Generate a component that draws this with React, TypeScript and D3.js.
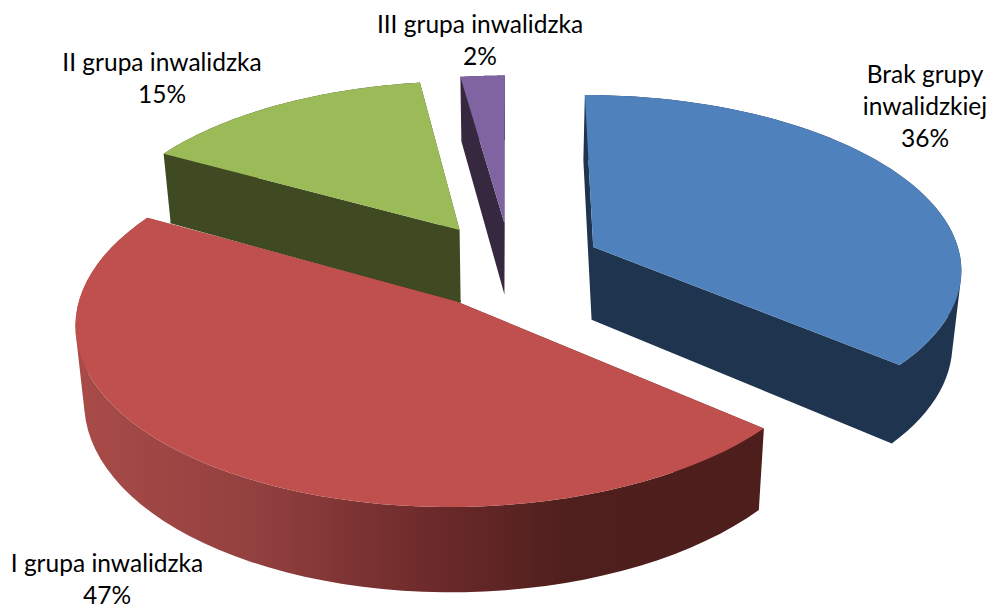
import React from "react";
import * as d3 from "d3";

const categories = ["Brak grupy inwalidzkiej", "I grupa inwalidzka", "II grupa inwalidzka", "III grupa inwalidzka"];
const values = [36.2, 46.9, 14.7, 2.2];
const topColors = ["#4F81BD", "#C0504D", "#9BBB59", "#8064A2"];
const wallColors = ["#1F344E", "url(#redWall)", "#3F4A22", "#35283F"];
const labelLines = [
  ["Brak grupy", "inwalidzkiej", "36%"],
  ["I grupa inwalidzka", "47%"],
  ["II grupa inwalidzka", "15%"],
  ["III grupa inwalidzka", "2%"],
];
const labelAnchors = [
  { x: 925, y: 83 },
  { x: 107, y: 572 },
  { x: 162, y: 71 },
  { x: 480, y: 33 },
];
const drawOrder = [0, 3, 2, 1];
const redStops = [
  { o: 0, c: "#A84B48" },
  { o: 0.25, c: "#934140" },
  { o: 0.5, c: "#6F2B2B" },
  { o: 0.72, c: "#4E1F1D" },
  { o: 1, c: "#4D1E1C" },
];

const CX = 510.5, CY = 265, RX = 369, RY = 173.2, P = 0.114, DEPTH = 73.5, EXPLODE = 0.25;
const BOTTOM_SHRINK = 0.98;

const scaleX = d3.scaleLinear().domain([-1, 1]).range([CX - RX, CX + RX]);
const scaleY = d3.scaleLinear().domain([-1, 1]).range([CY - RY, CY + RY]);

type Pt = [number, number];
function project(u: number, v: number, lower: boolean): Pt {
  const w = 1 / (1 - P * v);
  const x = scaleX(u * w);
  const y = scaleY(v * w);
  if (!lower) return [x, y];
  return [CX + (x - CX) * BOTTOM_SHRINK, y + DEPTH * w];
}

const pieGen = d3.pie<number>().sort(null).value((d) => d);
const arcs = pieGen(values);
const line = d3.line<Pt>();

function geom(a0: number, a1: number) {
  const m = (a0 + a1) / 2;
  const ou = EXPLODE * Math.sin(m), ov = -EXPLODE * Math.cos(m);
  const angles = d3.range(0, 61).map((i) => a0 + ((a1 - a0) * i) / 60);
  const rim = (lower: boolean) =>
    angles.map((t) => project(ou + Math.sin(t), ov - Math.cos(t), lower));
  const apex = (lower: boolean) => project(ou, ov, lower);
  return { rim, apex };
}

function quadPath(quad: Pt[]) {
  const ordered = d3.polygonArea(quad) < 0 ? quad.slice().reverse() : quad;
  return line(ordered)! + "Z";
}

// Cut faces and rim as quads wound the same way, joined into one path so no seams show.
function wallPath(a: Pt, b: Pt, top: Pt[], bot: Pt[]) {
  const last = top.length - 1;
  const rim = top.slice(1).map((p, k) => quadPath([top[k], p, bot[k + 1], bot[k]]));
  return [quadPath([a, top[0], bot[0], b]), quadPath([a, top[last], bot[last], b]), ...rim].join("");
}

export default function App() {
  return (
    <svg width={989} height={604} style={{ position: "absolute", left: 0, top: 0, background: "#fff" }}>
      <defs>
        <linearGradient id="redWall" gradientUnits="userSpaceOnUse" x1={80} x2={763} y1={0} y2={0}>
          {redStops.map((s) => (
            <stop key={s.o} offset={s.o} stopColor={s.c} />
          ))}
        </linearGradient>
      </defs>
      {drawOrder.map((i) => {
        const g = geom(arcs[i].startAngle, arcs[i].endAngle);
        const top = g.rim(false), bot = g.rim(true);
        const a = g.apex(false), b = g.apex(true);
        const wall = wallColors[i];
        return (
          <g key={categories[i]}>
            {i === 2 && <path d={line([b, bot[0]])!} fill="none" stroke={wall} strokeWidth={3} />}
            <path d={wallPath(a, b, top, bot)} fill={wall} />
            <path d={line([a, ...top])! + "Z"} fill={topColors[i]} />
          </g>
        );
      })}
      {labelLines.map((lines, i) => (
        <text key={i} textAnchor="middle" fontFamily="Lato" fontSize={24.5} fill="#000">
          {lines.map((t, j) => (
            <tspan key={j} x={labelAnchors[i].x} y={labelAnchors[i].y + j * 32}>{t}</tspan>
          ))}
        </text>
      ))}
    </svg>
  );
}
